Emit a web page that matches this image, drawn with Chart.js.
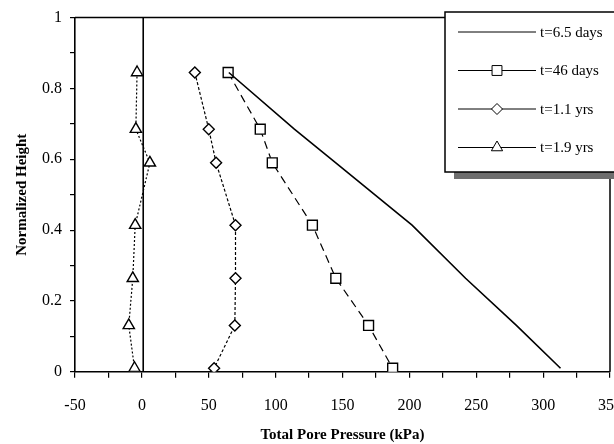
<!DOCTYPE html>
<html>
<head>
<meta charset="utf-8">
<title>Total Pore Pressure</title>
<script src="https://cdn.jsdelivr.net/npm/chart.js@4.4.1/dist/chart.umd.min.js"></script>
<style>
  html, body { margin: 0; padding: 0; background: #fff; overflow: hidden; }
  #wrap { width: 640px; height: 444px; }
</style>
</head>
<body>
<div id="wrap"><canvas id="poreChart"></canvas></div>
<script>
// Normalized piezometer heights (shared by every survey)
const heights = [0.845, 0.685, 0.59, 0.414, 0.264, 0.131, 0.01];

// Total pore pressure (kPa) at each height
const days65 = [65, 114, 145, 202, 242, 280, 313];
const days46 = [64.5, 88.5, 97.5, 127.5, 145, 169.5, 187.5];
const yrs11 = [39.6, 50, 55.5, 70, 70, 69.5, 54];
const yrs19 = [-3.6, -4.5, 6, -5, -6.8, -9.8, -5.5];

// Zero pressure reference line
const zeroLineX = [1, 1];
const zeroLineY = [0, 1];

const seriesLabels = ['t=6.5 days', 't=46 days', 't=1.1 yrs', 't=1.9 yrs'];
const xTicks = { min: -50, max: 350, step: 25, labelEvery: 50 };
const yTicks = { min: 0, max: 1, step: 0.1 };

const serif = '"Liberation Serif", "Times New Roman", serif';

function toPoints(xs, ys) {
    return xs.map((x, i) => ({ x: x, y: ys[i] }));
}

// Boxed legend with drop shadow in the upper right corner
const legendBox = {
    id: 'legendBox',
    afterDraw(chart) {
        const ctx = chart.ctx;
        const area = chart.chartArea;
        const bx = area.right - 165;
        const by = 12;
        const bw = 220;
        const bh = 160;

        ctx.save();
        ctx.fillStyle = '#6e6e6e';
        ctx.fillRect(bx + 9, by + bh, bw, 7);
        ctx.fillStyle = '#fff';
        ctx.fillRect(bx, by, bw, bh);
        ctx.strokeStyle = '#000';
        ctx.lineWidth = 1.5;
        ctx.strokeRect(bx, by, bw, bh);

        const rowGap = 38.5;
        chart.data.datasets.forEach((ds, i) => {
            if (ds.hideInLegend) return;
            const ry = by + 20 + i * rowGap;
            const x0 = bx + 13;
            const x1 = bx + 91;
            ctx.beginPath();
            ctx.setLineDash(ds.legendDash || []);
            ctx.lineWidth = 1;
            ctx.strokeStyle = '#000';
            ctx.moveTo(x0, ry);
            ctx.lineTo(x1, ry);
            ctx.stroke();
            ctx.setLineDash([]);
            if (ds.pointRadius > 0) {
                ctx.fillStyle = '#fff';
                ctx.strokeStyle = '#000';
                Chart.helpers.drawPoint(ctx, {
                    pointStyle: ds.pointStyle,
                    radius: ds.pointRadius,
                    borderWidth: ds.pointBorderWidth,
                    rotation: 0
                }, (x0 + x1) / 2, ry);
            }
            ctx.fillStyle = '#000';
            ctx.font = '15px ' + serif;
            ctx.textAlign = 'left';
            ctx.textBaseline = 'middle';
            ctx.fillText(ds.label, x1 + 4, ry + 1);
        });
        ctx.restore();
    }
};

// Top and right frame lines
const frame = {
    id: 'frame',
    beforeDatasetsDraw(chart) {
        const ctx = chart.ctx;
        const a = chart.chartArea;
        ctx.save();
        ctx.strokeStyle = '#000';
        ctx.lineWidth = 1.5;
        ctx.beginPath();
        ctx.moveTo(a.left, a.top);
        ctx.lineTo(a.right, a.top);
        ctx.lineTo(a.right, a.bottom);
        ctx.stroke();
        ctx.restore();
    }
};

const ctx = document.getElementById('poreChart').getContext('2d');
new Chart(ctx, {
    type: 'scatter',
    data: {
        datasets: [
            {
                label: seriesLabels[0],
                data: toPoints(days65, heights),
                showLine: true,
                borderColor: '#000',
                borderWidth: 1.6,
                pointRadius: 0,
                pointBorderWidth: 0
            },
            {
                label: seriesLabels[1],
                data: toPoints(days46, heights),
                showLine: true,
                borderColor: '#000',
                borderWidth: 1.2,
                borderDash: [8, 5],
                legendDash: [],
                pointStyle: 'rect',
                pointRadius: 7,
                pointBorderWidth: 1.4,
                pointBackgroundColor: '#fff',
                pointBorderColor: '#000'
            },
            {
                label: seriesLabels[2],
                data: toPoints(yrs11, heights),
                showLine: true,
                borderColor: '#000',
                borderWidth: 1.2,
                borderDash: [3, 2],
                legendDash: [],
                pointStyle: 'rectRot',
                pointRadius: 5.5,
                pointBorderWidth: 1.4,
                pointBackgroundColor: '#fff',
                pointBorderColor: '#000'
            },
            {
                label: seriesLabels[3],
                data: toPoints(yrs19, heights),
                showLine: true,
                borderColor: '#000',
                borderWidth: 1.2,
                borderDash: [2, 2],
                legendDash: [],
                pointStyle: 'triangle',
                pointRadius: 6.5,
                pointBorderWidth: 1.4,
                pointBackgroundColor: '#fff',
                pointBorderColor: '#000'
            },
            {
                label: 'zero',
                hideInLegend: true,
                data: toPoints(zeroLineX, zeroLineY),
                showLine: true,
                borderColor: '#000',
                borderWidth: 1.6,
                pointRadius: 0
            }
        ]
    },
    options: {
        responsive: true,
        maintainAspectRatio: false,
        animation: false,
        layout: {
            padding: { top: 10, left: 4, right: 0, bottom: 0 }
        },
        plugins: {
            legend: { display: false },
            tooltip: { enabled: false }
        },
        scales: {
            x: {
                type: 'linear',
                min: xTicks.min,
                max: xTicks.max,
                border: { display: true, color: '#000', width: 1.6 },
                grid: {
                    drawOnChartArea: false,
                    drawTicks: true,
                    tickLength: 6,
                    color: '#000',
                    lineWidth: 1.2
                },
                ticks: {
                    stepSize: xTicks.step,
                    padding: 18,
                    maxRotation: 0,
                    autoSkip: false,
                    color: '#000',
                    font: { family: serif, size: 16 },
                    callback: (v) => (v % xTicks.labelEvery === 0 ? String(v) : '')
                },
                title: {
                    display: true,
                    text: 'Total Pore Pressure (kPa)',
                    color: '#000',
                    font: { family: serif, size: 15, weight: 'bold' },
                    padding: { top: -7, bottom: 0 }
                }
            },
            y: {
                type: 'linear',
                min: yTicks.min,
                max: yTicks.max,
                border: { display: true, color: '#000', width: 1.6 },
                grid: {
                    drawOnChartArea: false,
                    drawTicks: true,
                    tickLength: 5,
                    color: '#000',
                    lineWidth: 1.2
                },
                ticks: {
                    stepSize: yTicks.step,
                    padding: 8,
                    autoSkip: false,
                    color: '#000',
                    font: { family: serif, size: 16 },
                    callback: (v) => {
                        const r = Math.round(v * 10);
                        return r % 2 === 0 ? String(r / 10) : '';
                    }
                },
                title: {
                    display: true,
                    text: 'Normalized Height',
                    color: '#000',
                    font: { family: serif, size: 15, weight: 'bold' },
                    padding: { top: 9, bottom: 3 }
                }
            }
        }
    },
    plugins: [frame, legendBox]
});
</script>
</body>
</html>
